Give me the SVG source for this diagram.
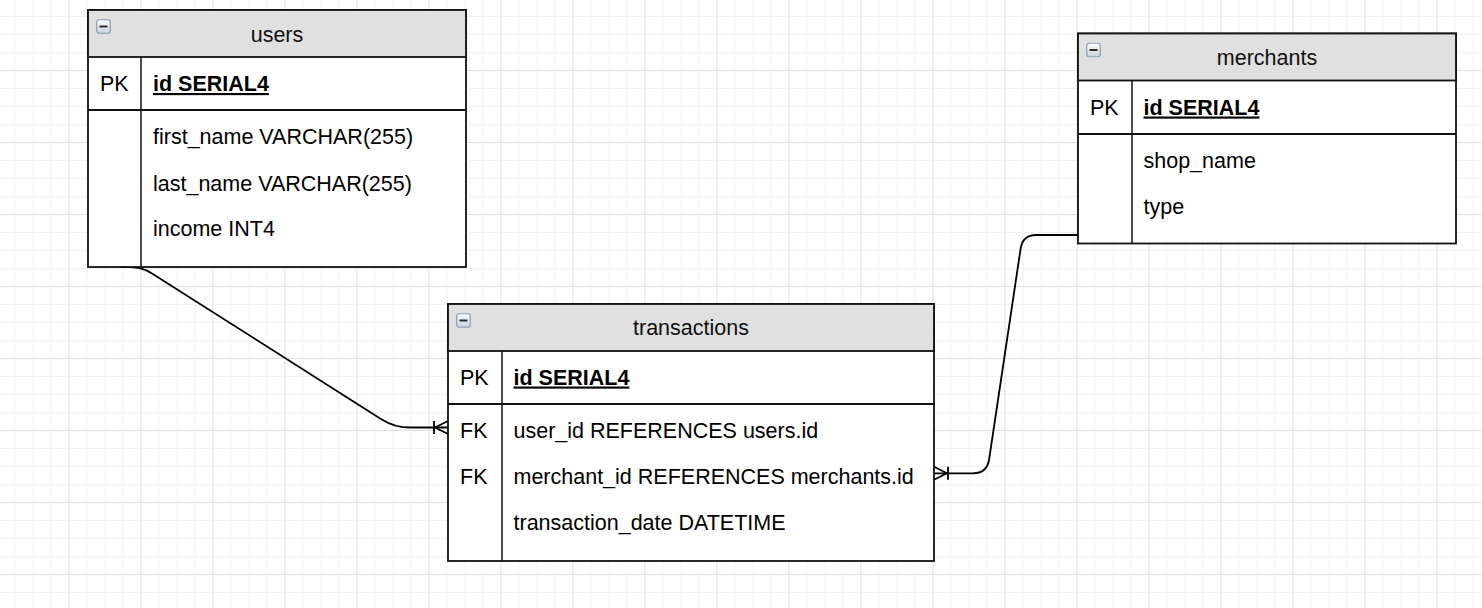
<svg xmlns="http://www.w3.org/2000/svg" width="1482" height="608" viewBox="0 0 1482 608">
<style>
.tbl{fill:#fff;stroke:#111;stroke-width:1.8}
.hdr{fill:#e0e0e0;stroke:#111;stroke-width:1.8}
.ln{stroke:#111;stroke-width:1.8;fill:none}
.dv{stroke:#111;stroke-width:1.5;fill:none}
text{font-family:"Liberation Sans",Arial,Helvetica,sans-serif;font-size:21.5px;fill:#000}
.title{text-anchor:middle;fill:#111}
.pk{font-weight:bold;text-decoration:underline}
.conn{fill:none;stroke:#000;stroke-width:1.8}
</style>
<defs>
<pattern id="grid" x="-3.5" y="-2" width="72" height="72" patternUnits="userSpaceOnUse">
<path d="M18.5 0V72M36.5 0V72M54.5 0V72M0 18.5H72M0 36.5H72M0 54.5H72" stroke="#f1f1f1" stroke-width="1"/>
<path d="M0.5 0V72M0 0.5H72" stroke="#dedede" stroke-width="1"/>
</pattern>
<linearGradient id="ig" x1="0" y1="0" x2="0" y2="1">
<stop offset="0" stop-color="#ffffff"/>
<stop offset="1" stop-color="#c9d2dc"/>
</linearGradient>
<symbol id="minus" viewBox="0 0 15 15" width="15" height="15">
<rect x="0.75" y="0.75" width="13.5" height="13.5" rx="2.5" fill="url(#ig)" stroke="#8a9cb3" stroke-width="1.2"/>
<path d="M3.5 7.5H11.5" stroke="#2a2a2a" stroke-width="2"/>
</symbol>
<marker id="manyOne" viewBox="-18 -10 20 20" refX="0" refY="0" markerWidth="20" markerHeight="20" orient="auto" markerUnits="userSpaceOnUse">
<path d="M-14,-6.5V6.5M-13,0L0,-6.5M-13,0L0,6.5" fill="none" stroke="#000" stroke-width="1.8"/>
</marker>
</defs>
<rect width="1482" height="608" fill="#fff"/>
<rect width="1482" height="608" fill="url(#grid)"/>

<g id="connectors">
<path id="users-transactions" class="conn" marker-end="url(#manyOne)" d="M120 267L130 267Q141.9 267 152 273.4L380.9 418.9Q394.4 427.5 410.4 427.5L448 427.5"/>
<path id="merchants-transactions" class="conn" marker-end="url(#manyOne)" d="M1078 235L1036 235Q1022.7 235 1020.6 248.8L989.1 459.5Q987 473.3 973 473.3L934 473.3"/>
</g>

<g id="users">
<rect class="tbl" x="88" y="10" width="378" height="257"/>
<rect class="hdr" x="88" y="10" width="378" height="47"/>
<use href="#minus" x="96" y="19"/>
<text class="title" x="277" y="41.5">users</text>
<path class="ln" d="M88 110H466"/>
<path class="dv" d="M141 57V267"/>
<text x="100" y="91">PK</text>
<text class="pk" x="153" y="91">id SERIAL4</text>
<text x="153" y="144">first_name VARCHAR(255)</text>
<text x="153" y="190.5">last_name VARCHAR(255)</text>
<text x="153" y="235.5">income INT4</text>
</g>

<g id="transactions">
<rect class="tbl" x="448" y="304" width="486" height="257"/>
<rect class="hdr" x="448" y="304" width="486" height="47"/>
<use href="#minus" x="456" y="313"/>
<text class="title" x="691" y="335">transactions</text>
<path class="ln" d="M448 404H934"/>
<path class="dv" d="M502 351V561"/>
<text x="460" y="384.5">PK</text>
<text class="pk" x="513.5" y="384.5">id SERIAL4</text>
<text x="460" y="437.7">FK</text>
<text x="513.5" y="437.7">user_id REFERENCES users.id</text>
<text x="460" y="484.3">FK</text>
<text x="513.5" y="484.3">merchant_id REFERENCES merchants.id</text>
<text x="513.5" y="529.5">transaction_date DATETIME</text>
</g>

<g id="merchants">
<rect class="tbl" x="1078" y="33.5" width="378" height="210"/>
<rect class="hdr" x="1078" y="33.5" width="378" height="47"/>
<use href="#minus" x="1086" y="42.5"/>
<text class="title" x="1267" y="64.5">merchants</text>
<path class="ln" d="M1078 134H1456"/>
<path class="dv" d="M1132 80.5V243.5"/>
<text x="1090" y="114.5">PK</text>
<text class="pk" x="1143.5" y="114.5">id SERIAL4</text>
<text x="1143.5" y="167.5">shop_name</text>
<text x="1143.5" y="214">type</text>
</g>
</svg>
